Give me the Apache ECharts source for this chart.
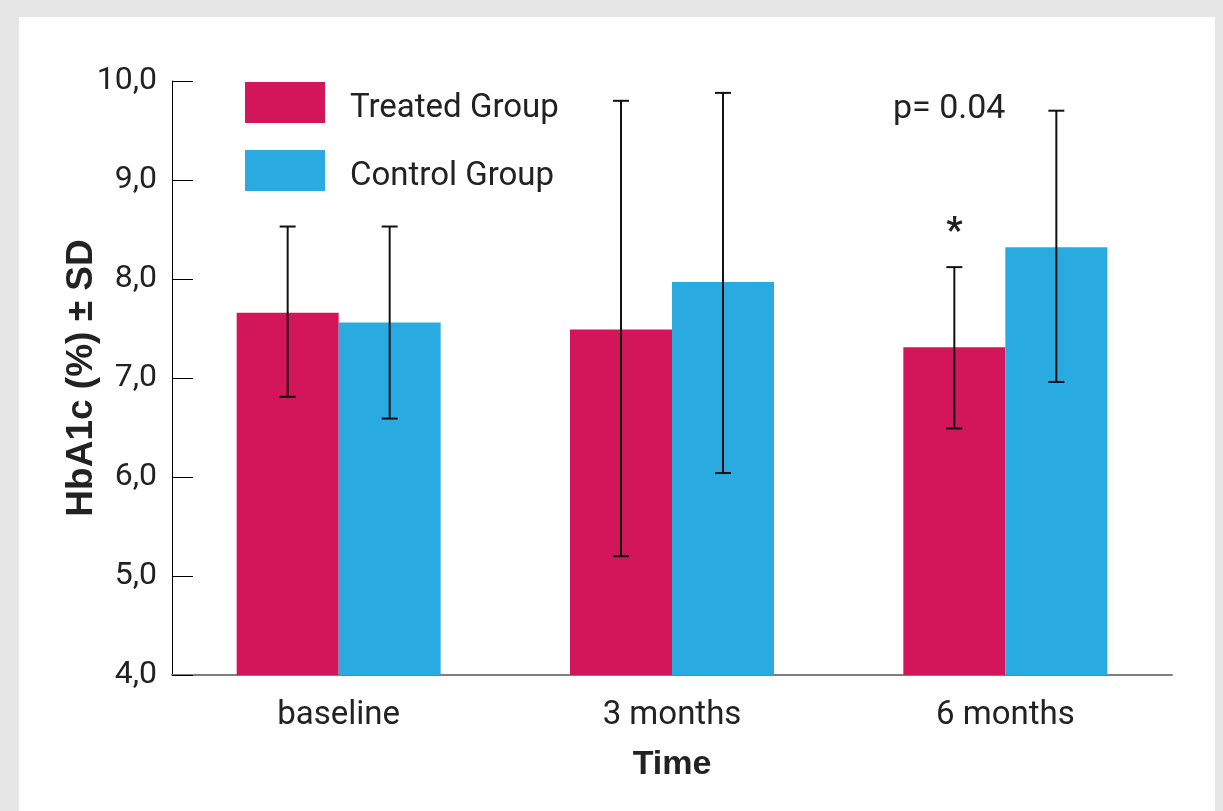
<!DOCTYPE html>
<html>
<head>
<meta charset="utf-8">
<script src="https://cdn.jsdelivr.net/npm/echarts@6/dist/echarts.min.js"></script>
<style>
html,body{margin:0;padding:0;background:#e6e6e6;}
#wrap{position:absolute;left:19px;top:17px;width:1196px;height:794px;background:#fff;}
#chart{position:absolute;left:0;top:0;width:1223px;height:811px;}
</style>
</head>
<body>
<div id="wrap"></div>
<div id="chart"></div>
<script>
const categories = ['baseline', '3 months', '6 months'];
const treatedMean = [7.66, 7.49, 7.31];
const treatedLow = [6.81, 5.20, 6.49];
const treatedHigh = [8.53, 9.80, 8.12];
const controlMean = [7.56, 7.97, 8.32];
const controlLow = [6.59, 6.04, 6.96];
const controlHigh = [8.53, 9.88, 9.70];
const yTicks = [4, 5, 6, 7, 8, 9, 10];

const FONT = 'Roboto';
const BOLD_FONT = 'Liberation Sans';
const TXT = '#222222';
const BAR_W = 102;

function errSeries(name, low, high, offset, star) {
  return {
    type: 'custom',
    name: name + ' SD',
    z: 10,
    data: categories.map((c, i) => [i, low[i], high[i]]),
    renderItem: function (params, api) {
      const i = api.value(0);
      const lo = api.coord([i, api.value(1)]);
      const hi = api.coord([i, api.value(2)]);
      const x = lo[0] + offset;
      const cap = 8;
      const style = { stroke: '#111', lineWidth: 2 };
      const children = [
        { type: 'line', shape: { x1: x, y1: hi[1], x2: x, y2: lo[1] }, style: style },
        { type: 'line', shape: { x1: x - cap, y1: hi[1], x2: x + cap, y2: hi[1] }, style: style },
        { type: 'line', shape: { x1: x - cap, y1: lo[1], x2: x + cap, y2: lo[1] }, style: style }
      ];
      if (star && star[i]) {
        children.push({ type: 'text', style: { x: x, y: hi[1] - 34, text: '*', fontSize: 36, fontWeight: 'bold', fontFamily: FONT, fill: TXT, align: 'center', verticalAlign: 'middle' } });
      }
      return { type: 'group', children: children };
    }
  };
}

const chart = echarts.init(document.getElementById('chart'), null, { renderer: 'canvas' });
chart.setOption({
  backgroundColor: 'transparent',
  animation: false,
  grid: { left: 172, right: 51, top: 81, bottom: 136 },
  legend: {
    orient: 'vertical', left: 245, top: 82, itemWidth: 80, itemHeight: 41, itemGap: 25,
    padding: 0, icon: 'rect',
    data: ['Treated Group', 'Control Group'],
    formatter: '{t|{name}}',
    textStyle: { fontFamily: FONT, fontSize: 33, color: TXT, padding: [0, 0, 0, 20],
      rich: { t: { fontFamily: FONT, fontSize: 33, color: TXT, padding: [12, 0, 0, 0] } } }
  },
  xAxis: {
    type: 'category', data: categories,
    axisLine: { lineStyle: { color: '#7f7f7f', width: 2 } },
    axisTick: { inside: true, length: 10, lineStyle: { color: '#333', width: 1 } },
    axisLabel: { fontFamily: FONT, fontSize: 33, color: TXT, margin: 24 },
    name: 'Time', nameLocation: 'middle', nameGap: 73, nameMoveOverlap: false,
    nameTextStyle: { fontFamily: BOLD_FONT, fontSize: 34, fontWeight: 'bold', color: TXT }
  },
  yAxis: {
    type: 'value', min: 4, max: 10, interval: 1,
    axisLine: { show: true, lineStyle: { color: '#000', width: 1 } },
    axisTick: { show: true, inside: true, length: 21, lineStyle: { color: '#000', width: 1 } },
    splitLine: { show: false },
    axisLabel: { fontFamily: FONT, fontSize: 32, color: TXT, margin: 15,
      formatter: v => yTicks.includes(v) ? v.toFixed(1).replace('.', ',') : '' },
    name: 'HbA1c (%) ± SD', nameLocation: 'middle', nameGap: 72, nameMoveOverlap: false,
    nameTextStyle: { fontFamily: BOLD_FONT, fontSize: 37, fontWeight: 'bold', color: TXT }
  },
  graphic: [
    { type: 'text', left: 893, top: 92, style: { text: 'p= 0.04', fontFamily: FONT, fontSize: 34, fill: TXT } }
  ],
  series: [
    { type: 'bar', name: 'Treated Group', data: treatedMean, barWidth: BAR_W, barGap: '0%', itemStyle: { color: '#d31659' } },
    { type: 'bar', name: 'Control Group', data: controlMean, barWidth: BAR_W, barGap: '0%', itemStyle: { color: '#29aae1' } },
    errSeries('Treated Group', treatedLow, treatedHigh, -BAR_W / 2, [false, false, true]),
    errSeries('Control Group', controlLow, controlHigh, BAR_W / 2, null)
  ]
});
</script>
</body>
</html>
